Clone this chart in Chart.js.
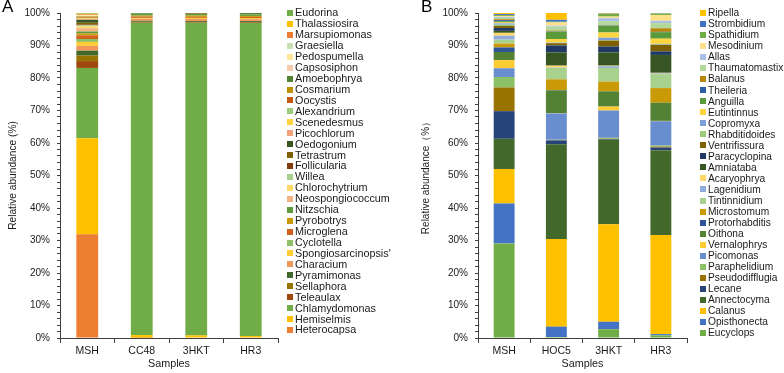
<!DOCTYPE html>
<html>
<head>
<meta charset="utf-8">
<script src="https://cdn.jsdelivr.net/npm/chart.js@4"></script>
<style>
  body { margin: 0; background: #fff; width: 784px; height: 373px; position: relative; overflow: hidden; font-family: Arial, "Liberation Sans", sans-serif; }
  .panel { position: absolute; top: 0; height: 373px; }
  .tag { position: absolute; top: -3px; font-size: 17px; color: #000; }
</style>
</head>
<body>
<div class="panel" style="left:0;width:395px"><canvas id="chartA" width="395" height="373"></canvas></div>
<div class="panel" style="left:392px;width:392px"><canvas id="chartB" width="392" height="373"></canvas></div>
<div class="tag" style="left:2px">A</div>
<div class="tag" style="left:421px">B</div>
<script>
// Panel A: samples and genera (bottom of the stack first)
const samplesA = ['MSH', 'CC48', '3HKT', 'HR3'];
const generaA = ['Heterocapsa', 'Hemiselmis', 'Chlamydomonas', 'Teleaulax', 'Sellaphora', 'Pyramimonas',
  'Characium', "Spongiosarcinopsis'", 'Cyclotella', 'Microglena', 'Pyrobotrys', 'Nitzschia',
  'Neospongiococcum', 'Chlorochytrium', 'Willea', 'Follicularia', 'Tetrastrum', 'Oedogonium',
  'Picochlorum', 'Scenedesmus', 'Alexandrium', 'Oocystis', 'Cosmarium', 'Amoebophrya',
  'Capsosiphon', 'Pedospumella', 'Graesiella', 'Marsupiomonas', 'Thalassiosira', 'Eudorina'];
const colorsA = ['#ED7D31', '#FFC000', '#70AD47', '#9E480E', '#997300', '#43682B',
  '#F1975A', '#FFCD33', '#8CC168', '#D0611C', '#CC9A06', '#5E9A3C',
  '#F4B183', '#FFD966', '#A9D18E', '#843C0C', '#7F6000', '#375623',
  '#F2A27A', '#FFD43F', '#9DCB7B', '#C55A11', '#BF9000', '#548235',
  '#F8CBAD', '#FFE699', '#C5E0B4', '#ED7D31', '#FFC000', '#70AD47'];
const mshA  = [31.9, 29.6, 21.6, 2.1, 1.7, 1.5, 1.5, 1.2, 0.9, 1.1, 0.6, 0.6, 1.0, 0.6, 0.3, 0.3, 0.5, 0.9, 0.2, 0.2, 0.1, 0.2, 0.3, 0.1, 0.1, 0.2, 0.1, 0.2, 0.2, 0.2];
const cc48A = [0.1, 0.8, 96.1, 0.2, 0.1, 0.3, 0.6, 0.2, 0.1, 0.4, 0.3, 0.5, 0, 0, 0, 0, 0, 0.1, 0, 0, 0, 0, 0, 0.1, 0, 0, 0, 0, 0, 0.1];
const hktA  = [0, 0.8, 96.2, 0.2, 0, 0.3, 0.7, 0.3, 0, 0.3, 0.4, 0.5, 0, 0, 0, 0, 0.2, 0, 0, 0, 0, 0, 0, 0.1, 0, 0, 0, 0, 0, 0];
const hr3A  = [0, 0.6, 96.3, 0.2, 0, 0.4, 0.6, 0.3, 0, 0.4, 0.3, 0.5, 0, 0, 0, 0, 0, 0, 0, 0, 0, 0, 0.1, 0.3, 0, 0, 0, 0, 0, 0];

// Panel B
const samplesB = ['MSH', 'HOC5', '3HKT', 'HR3'];
const generaB = ['Eucyclops', 'Opisthonecta', 'Calanus', 'Annectocyma', 'Lecane', 'Pseudodifflugia',
  'Paraphelidium', 'Picomonas', 'Vernalophrys', 'Oithona', 'Protorhabditis', 'Microstomum',
  'Tintinnidium', 'Lagenidium', 'Acaryophrya', 'Amniataba', 'Paracyclopina', 'Ventrifissura',
  'Rhabditidoides', 'Copromyxa', 'Eutintinnus', 'Anguilla', 'Theileria', 'Balanus',
  'Thaumatomastix', 'Allas', 'Mesodinium', 'Spathidium', 'Strombidium', 'Ripella'];
const colorsB = ['#70AD47', '#4472C4', '#FFC000', '#43682B', '#264478', '#997300',
  '#8CC168', '#698ED0', '#FFCD33', '#548235', '#2F5597', '#C99A06',
  '#A9D18E', '#8FAADC', '#FFD966', '#375623', '#1F3864', '#7F6000',
  '#9DCB7B', '#7F9FD8', '#FFD43F', '#5A9A3A', '#2E5DA8', '#B8860B',
  '#B4D89C', '#A9BFE8', '#FFE08A', '#6FAC46', '#4472C4', '#FFC000'];
const mshB  = [29.1, 12.3, 10.6, 9.3, 8.5, 7.3, 3.2, 2.7, 2.5, 2.5, 1.4, 1.2, 1.2, 1.2, 0.9, 0.6, 0.9, 0.6, 0.4, 0.4, 0.3, 0.4, 0.3, 0.3, 0.4, 0.3, 0.3, 0.3, 0.3, 0.3];
const hoc5B = [0.3, 3.2, 27.0, 29.1, 1.2, 0.1, 0.1, 8.1, 0.1, 7.0, 0.1, 3.3, 3.5, 0.1, 0.6, 4.1, 2.1, 0.7, 0.2, 0.1, 1.0, 2.3, 0.1, 0.2, 1.2, 0.3, 1.0, 0.2, 0.6, 2.1];
const hktB  = [2.7, 2.3, 30.0, 26.0, 0.2, 0.1, 0.3, 8.4, 1.2, 4.7, 0, 3.0, 4.2, 0.5, 0.2, 4.1, 1.8, 1.8, 0.2, 0.7, 1.6, 2.0, 0.1, 0.1, 1.3, 0.9, 0.5, 0.8, 0.1, 0.2];
const hr3B  = [0.8, 0.4, 30.5, 26.1, 0.8, 0.3, 0.3, 7.5, 0.1, 5.6, 0, 4.5, 4.3, 0.2, 0.2, 5.5, 1.1, 2.0, 0.1, 0.2, 1.6, 2.0, 0.1, 1.1, 1.6, 0.7, 1.8, 0.4, 0.1, 0.1];

Chart.defaults.font.family = 'Arial, "Liberation Sans", sans-serif';
Chart.defaults.color = '#1a1a1a';

// the built-in legend is capped at a quarter of the canvas width, so draw the
// key ourselves from the datasets, top row = last dataset
const sideLegend = {
  id: 'sideLegend',
  afterDraw(chart, args, o) {
    const ctx = chart.ctx;
    const sets = chart.data.datasets;
    ctx.save();
    ctx.font = o.size + 'px Arial, "Liberation Sans", sans-serif';
    ctx.textBaseline = 'middle';
    ctx.textAlign = 'left';
    for (let k = 0; k < sets.length; k++) {
      const ds = sets[sets.length - 1 - k];
      const y = o.top + k * o.step;
      ctx.fillStyle = ds.backgroundColor;
      ctx.fillRect(o.x, Math.round(y - 3), 6, 6);
      ctx.fillStyle = '#1a1a1a';
      ctx.fillText(ds.label, o.x + 8, y + 0.5);
    }
    ctx.restore();
  }
};

function makeDatasets(genera, colors, columns) {
  return genera.map((g, i) => ({
    label: g,
    data: columns.map(c => c[i]),
    backgroundColor: colors[i],
    borderWidth: 0,
    barPercentage: 0.4,
    categoryPercentage: 1
  }));
}

function makeOptions(cfg) {
  return {
    responsive: false,
    animation: false,
    layout: { padding: { top: 7, left: cfg.padLeft, right: cfg.padRight, bottom: 0 } },
    plugins: {
      legend: { display: false },
      tooltip: { enabled: false },
      sideLegend: { x: cfg.legendX, top: 13, step: cfg.step, size: cfg.legendFont }
    },
    scales: {
      x: {
        stacked: true,
        grid: { display: true, offset: true, drawOnChartArea: false, drawTicks: true, tickLength: 5, color: '#404040' },
        border: { display: true, color: '#404040', width: 1 },
        ticks: { padding: 2, font: { size: 10.5 }, color: '#1a1a1a' },
        title: { display: true, text: 'Samples', font: { size: 10.8 }, color: '#1a1a1a', padding: { top: 0, bottom: 2 } },
        afterFit(scale) { scale.height = 35; }
      },
      y: {
        stacked: true,
        min: 0,
        max: 100,
        grid: { display: true, drawOnChartArea: false, drawTicks: true, tickLength: 3, color: '#404040' },
        border: { display: true, color: '#404040', width: 1 },
        ticks: {
          stepSize: 2,
          autoSkip: false,
          padding: 7,
          font: { size: 10 },
          color: '#1a1a1a',
          callback: v => (Math.round(v) % 10 === 0 ? Math.round(v) + '%' : '')
        },
        title: { display: true, text: cfg.yTitle, font: { size: cfg.titleFont }, color: '#1a1a1a', padding: { top: cfg.titlePad, bottom: 0 } },
        afterFit(scale) { scale.width = 60; }
      }
    }
  };
}

new Chart(document.getElementById('chartA').getContext('2d'), {
  type: 'bar',
  data: { labels: samplesA, datasets: makeDatasets(generaA, colorsA, [mshA, cc48A, hktA, hr3A]) },
  options: makeOptions({ padLeft: 0, padRight: 117, legendX: 287, step: 10.93, legendFont: 10.8,
    titlePad: 7, titleFont: 10.2, yTitle: 'Relative abundance (%)' }),
  plugins: [sideLegend]
});

new Chart(document.getElementById('chartB').getContext('2d'), {
  type: 'bar',
  data: { labels: samplesB, datasets: makeDatasets(generaB, colorsB, [mshB, hoc5B, hktB, hr3B]) },
  options: makeOptions({ padLeft: 26, padRight: 97, legendX: 308, step: 11.03, legendFont: 10.2,
    titlePad: 2, titleFont: 10, yTitle: 'Relative abundance（%）' }),
  plugins: [sideLegend]
});
</script>
</body>
</html>
